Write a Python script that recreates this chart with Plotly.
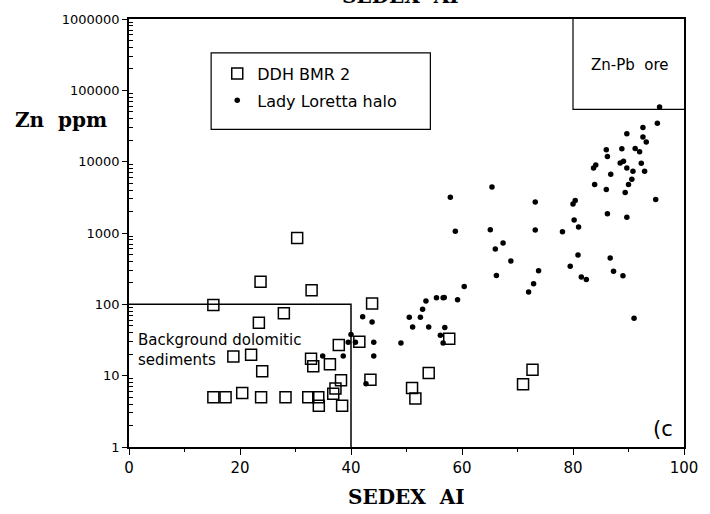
import plotly.graph_objects as go

# ---- data ----
bmr_x = [23.7, 32.9, 15.2, 43.8, 27.9, 23.4, 37.8, 41.5, 18.8, 22.0, 32.8, 33.2, 36.2, 24.0,
         38.2, 43.5, 37.2, 36.8, 20.4, 15.2, 17.4, 23.8, 28.2, 32.3, 34.1, 34.2, 38.4, 30.3,
         57.7, 54.0, 51.0, 51.6, 72.7, 71.0]
bmr_y = [207, 157, 98, 103, 75, 55, 27, 30, 18.6, 19.6, 17.3, 13.5, 14.4, 11.5,
         8.6, 8.8, 6.6, 5.6, 5.7, 5.0, 5.0, 5.0, 5.0, 5.0, 5.0, 3.8, 3.8, 850,
         33, 10.9, 6.7, 4.8, 12.1, 7.6]

ll_x = [57.9, 65.4, 58.8, 65.1, 73.2, 73.2, 66.0, 67.4, 68.8, 66.2, 73.8, 72.9, 72.0, 60.4,
        56.8, 59.2, 78.1, 80.2, 81.0, 80.0, 80.4, 80.9, 79.5, 81.5, 82.4, 86.2, 89.7, 86.7,
        87.3, 89.0, 83.7, 84.1, 83.9, 86.0, 86.8, 86.0, 86.2, 88.8, 89.7, 91.2, 92.0, 92.6,
        92.6, 93.2, 95.2, 88.5, 89.1, 89.7, 90.8, 92.3, 92.9, 90.6, 90.0, 89.4, 94.9, 95.6,
        91.0, 49.0, 50.5, 51.1, 52.5, 52.9, 53.5, 54.0, 55.4, 56.6, 56.9, 56.1, 56.6, 42.1,
        43.8, 40.0, 39.5, 40.8, 44.1, 44.1, 38.6, 34.9, 42.7]
ll_y = [3180, 4430, 1056, 1110, 2730, 1100, 598, 725, 406, 254, 295, 194, 149, 178,
        125, 116, 1042, 1518, 1213, 2540, 2860, 493, 343, 241, 223, 1858, 1656, 448,
        292, 251, 8150, 8970, 4780, 4070, 6650, 14700, 11860, 15200, 24600, 15300, 13800, 30100,
        22100, 18800, 34600, 9570, 10100, 8150, 7330, 9480, 7330, 5660, 4780, 3700, 2950, 58600,
        63.7, 28.6, 65.8, 48.3, 65.8, 85, 111, 48.3, 124, 124, 47.3, 36.9, 28.6, 67,
        56.7, 37.7, 29.5, 29.5, 29.5, 18.8, 18.8, 18.8, 7.7]

bg_box_x = [0, 40, 40]
bg_box_y = [100, 100, 1]
ore_box_x = [80, 80, 100]
ore_box_y = [1000000, 54000, 54000]

y_tickvals = [1, 10, 100, 1000, 10000, 100000, 1000000]
y_ticktext = ["1", "10", "100", "1000", "10000", "100000", "1000000"]
x_tickvals = [0, 20, 40, 60, 80, 100]
x_ticktext = ["0", "20", "40", "60", "80", "100"]
x_minor = [10, 30, 50, 70, 90]
y_minor = [m * 10 ** e for e in range(6) for m in range(2, 10)]

SANS = "DejaVu Sans"
SERIF = "DejaVu Serif"

fig = go.Figure()
fig.add_trace(go.Scatter(x=bg_box_x, y=bg_box_y, mode="lines",
                         line=dict(color="black", width=1.5), showlegend=False, hoverinfo="skip"))
fig.add_trace(go.Scatter(x=ore_box_x, y=ore_box_y, mode="lines",
                         line=dict(color="black", width=1.2), showlegend=False, hoverinfo="skip"))
fig.add_trace(go.Scatter(x=bmr_x, y=bmr_y, mode="markers", name="DDH BMR 2", legendgroup="a",
                         marker=dict(symbol="square-open", size=11, color="black",
                                     line=dict(width=1.5, color="black"))))
fig.add_trace(go.Scatter(x=ll_x, y=ll_y, mode="markers", name="Lady Loretta halo", legendgroup="b",
                         marker=dict(symbol="circle", size=5.5, color="black")))

fig.update_layout(
    width=710, height=514,
    margin=dict(l=129, r=16, t=17, b=67),
    paper_bgcolor="white", plot_bgcolor="white",
    showlegend=True,
    legend=dict(x=0.159, y=0.912, xanchor="left", yanchor="top",
                bgcolor="rgba(0,0,0,0)", borderwidth=0,
                font=dict(family=SANS, size=16, color="black"),
                tracegroupgap=3),
    xaxis=dict(range=[0, 100], showgrid=False, zeroline=False,
               showline=True, linecolor="black", linewidth=1.5, mirror=True,
               ticks="outside", ticklen=6, tickwidth=1.2, tickcolor="black",
               tickvals=x_tickvals, ticktext=x_ticktext,
               tickfont=dict(family=SANS, size=15, color="black"),
               minor=dict(tickvals=x_minor, ticks="outside", ticklen=3, tickcolor="black", tickwidth=1)),
    yaxis=dict(type="log", range=[0, 6], showgrid=False, zeroline=False,
               showline=True, linecolor="black", linewidth=1.5, mirror=True,
               ticks="outside", ticklen=5, tickwidth=1.2, tickcolor="black",
               tickvals=y_tickvals, ticktext=y_ticktext,
               tickfont=dict(family=SANS, size=13, color="black"),
               minor=dict(tickvals=y_minor, ticks="inside", ticklen=4, tickcolor="black", tickwidth=1)),
    shapes=[dict(type="rect", xref="paper", yref="paper",
                 x0=0.148, x1=0.543, y0=0.742, y1=0.921,
                 line=dict(color="black", width=1.2), fillcolor="rgba(0,0,0,0)", layer="below")],
    annotations=[
        dict(text="SEDEX  AI", xref="paper", yref="paper", x=0.5, y=-0.116,
             xanchor="center", yanchor="middle", showarrow=False,
             font=dict(family=SERIF, size=20, color="black", weight="bold")),
        dict(text="SEDEX  AI", xref="paper", yref="paper", x=0.49, y=1.054,
             xanchor="center", yanchor="middle", showarrow=False,
             font=dict(family=SERIF, size=20, color="black", weight="bold")),
        dict(text="Zn  ppm", xref="paper", yref="paper", x=-0.122, y=0.765,
             xanchor="center", yanchor="middle", showarrow=False,
             font=dict(family=SERIF, size=20, color="black", weight="bold")),
        dict(text="Background dolomitic<br>sediments", xref="paper", yref="paper",
             x=0.0124, y=0.226, xanchor="left", yanchor="middle", align="left", showarrow=False,
             font=dict(family=SANS, size=15, color="black")),
        dict(text="Zn-Pb  ore", xref="paper", yref="paper", x=0.903, y=0.893,
             xanchor="center", yanchor="middle", showarrow=False,
             font=dict(family=SANS, size=15, color="black")),
        dict(text="(c", xref="paper", yref="paper", x=0.962, y=0.042,
             xanchor="center", yanchor="middle", showarrow=False,
             font=dict(family=SANS, size=21, color="black")),
    ],
)

fig.write_html("out.html")
